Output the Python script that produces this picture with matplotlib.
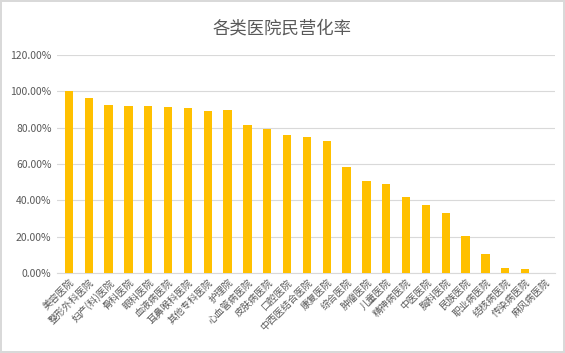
import matplotlib.pyplot as plt
from matplotlib.ticker import PercentFormatter

plt.rcParams['font.family'] = ['Noto Sans CJK SC', 'DejaVu Sans']

hospitals = ['美容医院', '整形外科医院', '妇产(科)医院', '骨科医院', '眼科医院',
             '血液病医院', '耳鼻喉科医院', '其他专科医院', '护理院', '心血管病医院',
             '皮肤病医院', '口腔医院', '中西医结合医院', '康复医院', '综合医院',
             '肿瘤医院', '儿童医院', '精神病医院', '中医医院', '胸科医院',
             '民族医院', '职业病医院', '结核病医院', '传染病医院', '麻风病医院']
rates = [100.0, 96.3, 92.4, 92.1, 92.1,
         91.5, 90.8, 89.3, 89.5, 81.2,
         79.2, 76.2, 75.0, 72.4, 58.6,
         50.8, 48.8, 42.0, 37.6, 33.1,
         20.3, 10.5, 2.9, 2.4, 0.0]
yticks = [0, 20, 40, 60, 80, 100, 120]

fig = plt.figure(figsize=(5.65, 3.53), dpi=100)
fig.patch.set_edgecolor('#d9d9d9')
fig.patch.set_linewidth(1.5)
ax = fig.add_axes([0.101, 0.227, 0.881, 0.617])

ax.bar(range(len(hospitals)), rates, width=0.42, color='#FFC000', zorder=3)

ax.set_ylim(0, 120)
ax.set_xlim(-0.6, len(hospitals) - 0.5)
ax.set_yticks(yticks)
ax.yaxis.set_major_formatter(PercentFormatter(decimals=2))
ax.grid(axis='y', color='#d9d9d9', linewidth=0.8, zorder=0)
for s in ['top', 'right', 'left']:
    ax.spines[s].set_visible(False)
ax.spines['bottom'].set_color('#d9d9d9')

ax.set_xticks(range(len(hospitals)))
ax.set_xticklabels(hospitals, rotation=45, ha='right', rotation_mode='anchor',
                   fontsize=7, color='#595959')
ax.tick_params(axis='x', length=0, pad=3)
ax.tick_params(axis='y', length=0, labelsize=7.5, labelcolor='#595959', pad=4)

fig.text(0.5, 0.92, '各类医院民营化率', ha='center', va='center',
         fontsize=12.5, color='#595959')

fig.savefig('out.png', dpi=100)
